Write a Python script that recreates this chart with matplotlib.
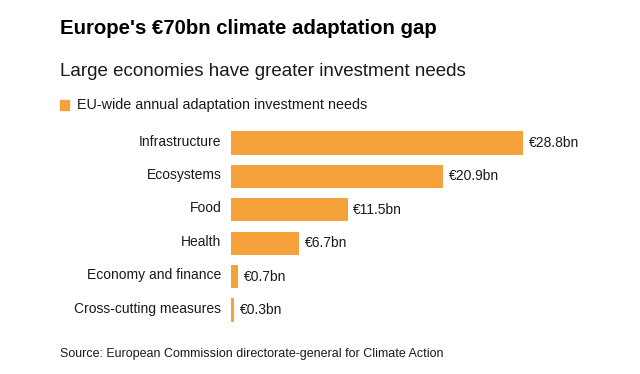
import matplotlib.pyplot as plt
import matplotlib.transforms as mtransforms

categories = ["Infrastructure", "Ecosystems", "Food", "Health",
              "Economy and finance", "Cross-cutting measures"]
values = [28.8, 20.9, 11.5, 6.7, 0.7, 0.3]
value_labels = ["€28.8bn", "€20.9bn", "€11.5bn", "€6.7bn", "€0.7bn", "€0.3bn"]

BAR = "#F6A23A"
TXT = "#1a1a1a"
W, H = 640, 374

plt.rcParams["font.family"] = ["Liberation Sans", "DejaVu Sans"]

fig = plt.figure(figsize=(6.4, 3.74), dpi=100)

# axes placed in pixel coordinates: bars start at x=231, longest ends near 523
left, right = 231, 523
top, bottom = 126.3, 326.7
ax = fig.add_axes([left / W, 1 - bottom / H, (right - left) / W, (bottom - top) / H])

y = list(range(len(categories)))
ax.barh(y, values, height=0.69, color=BAR)
ax.set_xlim(0, 28.8)
ax.set_ylim(len(categories) - 0.5, -0.5)

ax.set_yticks(y)
ax.set_yticklabels(categories, fontsize=10, color=TXT)
ax.tick_params(axis="y", length=0, pad=7)
# category labels sit a little above the bar centre in the original
shift = mtransforms.ScaledTranslation(0, 3 / 100, fig.dpi_scale_trans)
for t in ax.get_yticklabels():
    t.set_transform(t.get_transform() + shift)
ax.set_xticks([])
for s in ax.spines.values():
    s.set_visible(False)

for yi, v, lab in zip(y, values, value_labels):
    ax.annotate(lab, (v, yi), xytext=(4, 0), textcoords="offset points",
                va="center", ha="left", fontsize=10, color=TXT,
                annotation_clip=False)

fig.text(60 / W, 1 - 29 / H, "Europe's €70bn climate adaptation gap",
         fontsize=14.7, fontweight="bold", color="black", va="center", ha="left")
fig.text(60 / W, 1 - 72 / H, "Large economies have greater investment needs",
         fontsize=13.5, color=TXT, va="center", ha="left")

fig.patches.append(plt.Rectangle((60 / W, 1 - 110 / H), 9 / W, 10 / H,
                                 transform=fig.transFigure, color=BAR))
fig.text(77 / W, 1 - 105 / H, "EU-wide annual adaptation investment needs",
         fontsize=10.4, color=TXT, va="center", ha="left")

fig.text(60 / W, 1 - 354 / H, "Source: European Commission directorate-general for Climate Action",
         fontsize=9, color=TXT, va="center", ha="left")

fig.savefig("out.png", dpi=100)
